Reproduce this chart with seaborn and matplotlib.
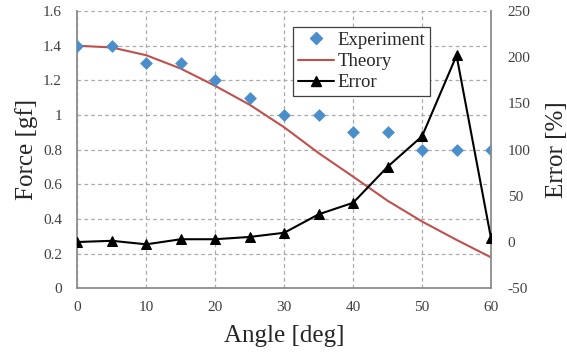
import matplotlib
matplotlib.use("Agg")
import matplotlib.pyplot as plt
import seaborn as sns
import pandas as pd
from matplotlib.lines import Line2D

angle = [0, 5, 10, 15, 20, 25, 30, 35, 40, 45, 50, 55, 60]
experiment = [1.4, 1.4, 1.3, 1.3, 1.2, 1.1, 1.0, 1.0, 0.9, 0.9, 0.8, 0.8, 0.8]
theory = [1.40, 1.39, 1.345, 1.268, 1.168, 1.059, 0.929, 0.78, 0.644, 0.505, 0.385, 0.279, 0.178]
error = [0, 1.3, -2.5, 3, 3, 5.5, 10, 30, 42.5, 81.5, 114.5, 202, 4]

x_ticks = [0, 10, 20, 30, 40, 50, 60]
left_ticks = [0, 0.2, 0.4, 0.6, 0.8, 1.0, 1.2, 1.4, 1.6]
left_labels = ["0", "0.2", "0.4", "0.6", "0.8", "1", "1.2", "1.4", "1.6"]
right_ticks = [-50, 0, 50, 100, 150, 200, 250]

df = pd.DataFrame({"Angle": angle, "Experiment": experiment,
                   "Theory": theory, "Error": error})

sns.set_theme(style="white")
plt.rcParams["font.family"] = ["Liberation Serif", "DejaVu Serif"]
plt.rcParams["axes.unicode_minus"] = False

blue = "#4A8FCB"
red = "#C0504D"
grid_c = "#ABABAB"
spine_c = "#8C8C8C"
tick_c = "#404040"

fig = plt.figure(figsize=(5.67, 3.58), dpi=100)
ax = fig.add_axes([0.1365, 0.195, 0.7295, 0.774])

sns.lineplot(data=df, x="Angle", y="Theory", ax=ax, color=red, linewidth=1.5, zorder=3)
sns.scatterplot(data=df, x="Angle", y="Experiment", ax=ax, marker="D", s=36,
                color=blue, edgecolor=blue, linewidth=0.5, zorder=4)

ax.set_xlim(0, 60)
ax.set_ylim(0, 1.6)
ax.set_xticks(x_ticks)
ax.set_yticks(left_ticks)
ax.set_yticklabels(left_labels)
ax.grid(True, color=grid_c, linestyle=(0, (3, 2.5)), linewidth=0.9)
ax.set_axisbelow(True)
for side in ["top", "right"]:
    ax.spines[side].set_visible(False)
for side in ["left", "bottom"]:
    ax.spines[side].set_color(spine_c)
    ax.spines[side].set_linewidth(1.3)
ax.tick_params(axis="both", length=0, labelsize=11, labelcolor=tick_c)
ax.tick_params(axis="y", pad=11)
ax.tick_params(axis="x", pad=9)
ax.set_xlabel("Angle [deg]", fontsize=18, labelpad=8)
ax.set_ylabel("Force [gf]", fontsize=18, labelpad=4)

ax2 = ax.twinx()
sns.lineplot(data=df, x="Angle", y="Error", ax=ax2, color="black", linewidth=1.5,
             marker="^", markersize=6.5, markeredgecolor="black", zorder=5)
ax2.set_ylim(-50, 250)
ax2.set_yticks(right_ticks)
ax2.grid(False)
for side in ["top", "left", "bottom"]:
    ax2.spines[side].set_visible(False)
ax2.spines["right"].set_color(spine_c)
ax2.spines["right"].set_linewidth(1.3)
ax2.tick_params(axis="y", length=0, labelsize=11, labelcolor=tick_c, pad=12)
ax2.set_ylabel("Error [%]", fontsize=18, labelpad=11)

handles = [
    Line2D([], [], linestyle="none", marker="D", color=blue, markersize=6),
    Line2D([], [], color=red, linewidth=1.5),
    Line2D([], [], color="black", linewidth=1.5, marker="^", markersize=6.5),
]
leg = ax2.legend(handles, ["Experiment", "Theory", "Error"], loc="upper left",
                 bbox_to_anchor=(0.522, 0.942), fontsize=13.5, frameon=True,
                 fancybox=False, edgecolor="#404040", framealpha=1,
                 handlelength=1.9, handletextpad=0.2, borderpad=0.25,
                 labelspacing=0.22, borderaxespad=0)
leg.get_frame().set_linewidth(0.9)

fig.savefig("out.png", dpi=100)
